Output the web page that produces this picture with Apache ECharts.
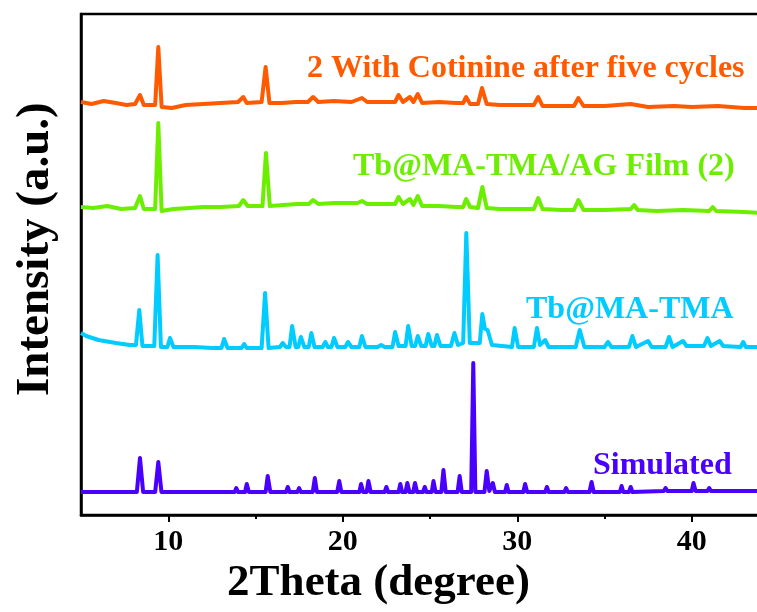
<!DOCTYPE html>
<html><head><meta charset="utf-8">
<script src="https://cdn.jsdelivr.net/npm/echarts@6/dist/echarts.min.js"></script>
<style>html,body{margin:0;padding:0;background:#fff}#c{width:757px;height:612px}</style>
</head><body><div id="c"></div>
<script>
// Series names / labels
const seriesNames = ['2 With Cotinine after five cycles', 'Tb@MA-TMA/AG Film (2)', 'Tb@MA-TMA', 'Simulated'];
const xTickLabels = [10, 20, 30, 40];
const xMinorTicks = [15, 25, 35];
const xAxisTitle = '2Theta (degree)';
const yAxisTitle = 'Intensity (a.u.)';

// [2theta, intensity (a.u., stacked offset)]
const cyclesData = [[5.0,413],[5.6,411],[6.3,414],[7.0,412],[7.6,410],[8.1,411],[8.38,420],[8.6,410],[9.25,410],[9.43,468],[9.62,408],[10.2,407],[11.0,410],[12.0,411],[13.0,412],[14.0,413],[14.3,418],[14.5,412],[15.35,413],[15.58,448],[15.8,412],[16.5,412],[17.3,413],[18.0,413],[18.3,418],[18.6,413],[19.5,414],[20.5,413],[21.1,417],[21.4,413],[22.3,413],[23.0,413],[23.2,420],[23.45,413],[23.85,418],[24.05,413],[24.3,421],[24.55,412],[25.5,413],[26.5,412],[26.9,412],[27.07,418],[27.3,411],[27.75,411],[27.98,427],[28.25,411],[29.0,410],[30.0,410],[30.95,410],[31.2,418],[31.45,409],[32.5,409],[33.25,409],[33.5,417],[33.8,409],[35.0,409],[36.5,411],[37.5,408],[39.0,409],[40.0,408],[41.5,409],[43.0,407],[44.0,407]];

const filmData = [[5.0,308],[5.7,307],[6.5,309],[7.3,306],[8.1,307],[8.38,319],[8.6,306],[9.25,306],[9.43,392],[9.62,304],[10.3,306],[11.2,307],[12.0,308],[13.0,308],[14.05,309],[14.3,315],[14.55,309],[15.4,309],[15.6,362],[15.82,309],[16.6,310],[17.4,311],[18.05,311],[18.3,315],[18.6,311],[19.5,312],[20.4,312],[20.85,312],[21.1,314],[21.4,311],[22.3,311],[23.0,311],[23.2,318],[23.45,311],[23.85,316],[24.05,310],[24.3,319],[24.55,309],[25.5,309],[26.5,308],[26.9,308],[27.07,316],[27.3,308],[27.75,307],[28.0,328],[28.25,307],[29.0,306],[30.0,306],[30.95,306],[31.2,317],[31.45,306],[32.5,305],[33.25,305],[33.5,315],[33.8,305],[35.0,305],[36.5,306],[36.7,310],[36.9,305],[38.0,304],[39.5,305],[41.0,304],[41.2,308],[41.4,304],[43.0,303],[44.0,302]];

const powderData = [[5.0,182],[5.3,179],[6.0,175],[7.0,172],[7.8,170],[8.15,170],[8.34,205],[8.52,169],[9.2,169],[9.39,260],[9.58,168],[9.95,168],[10.1,177],[10.3,168],[11.5,168],[12.5,167],[13.05,167],[13.2,176],[13.4,167],[14.2,167],[14.35,171],[14.5,167],[15.35,167],[15.55,222],[15.75,167],[16.4,168],[16.56,172],[16.75,168],[16.95,168],[17.1,189],[17.3,168],[17.45,168],[17.6,178],[17.8,168],[18.05,168],[18.2,182],[18.38,168],[18.85,168],[19.0,173],[19.15,168],[19.35,168],[19.5,177],[19.7,168],[20.15,168],[20.3,173],[20.5,168],[20.95,168],[21.1,179],[21.3,168],[22.0,168],[22.2,170],[22.4,168],[22.85,168],[23.0,183],[23.2,169],[23.6,169],[23.75,189],[23.95,169],[24.15,169],[24.3,179],[24.5,169],[24.75,169],[24.9,181],[25.1,169],[25.25,169],[25.4,180],[25.6,169],[26.2,169],[26.4,182],[26.6,170],[26.9,172],[27.08,282],[27.28,172],[27.85,172],[28.0,201],[28.15,186],[28.3,185],[28.55,170],[29.7,168],[29.85,187],[30.05,168],[30.95,168],[31.13,187],[31.3,170],[31.6,175],[31.8,168],[33.35,168],[33.58,185],[33.85,168],[35.0,168],[35.2,173],[35.4,168],[36.4,168],[36.6,179],[36.8,168],[37.5,174],[37.7,168],[38.5,168],[38.7,178],[38.9,168],[39.5,174],[39.7,169],[40.7,169],[40.9,177],[41.1,169],[41.6,174],[41.8,169],[42.8,168],[42.95,173],[43.1,168],[44.0,168]];

const simulatedData = [[5.0,23],[8.2,23],[8.38,57],[8.56,23],[9.25,23],[9.43,53],[9.61,23],[13.1,23],[13.2,21],[13.3,23],[13.8,23],[13.9,27],[14.0,23],[14.4,23],[14.5,31],[14.62,23],[15.58,23],[15.7,39],[15.85,23],[16.75,23],[16.85,28],[16.95,23],[17.4,23],[17.5,27],[17.6,23],[18.28,23],[18.4,37],[18.52,23],[19.68,23],[19.8,34],[19.92,23],[20.95,23],[21.05,31],[21.17,23],[21.37,23],[21.47,34],[21.6,23],[22.4,23],[22.5,28],[22.6,23],[23.2,23],[23.3,31],[23.4,23],[23.6,23],[23.7,32],[23.82,23],[24.04,23],[24.14,32],[24.26,23],[24.6,23],[24.7,28],[24.8,23],[25.1,23],[25.2,34],[25.32,23],[25.65,23],[25.77,45],[25.9,23],[26.58,23],[26.7,39],[26.82,23],[27.36,23],[27.48,152],[27.6,23],[28.12,23],[28.25,44],[28.4,24],[28.5,23],[28.6,32],[28.72,23],[29.3,23],[29.4,30],[29.5,23],[30.35,23],[30.45,31],[30.57,23],[31.6,23],[31.7,28],[31.8,23],[32.7,23],[32.8,27],[32.9,23],[34.14,23],[34.26,33],[34.38,23],[35.88,23],[35.98,29],[36.08,23],[36.4,23],[36.5,28],[36.6,23],[38.4,24],[38.5,27],[38.6,24],[40.0,24],[40.1,32],[40.22,24],[40.9,24],[41.0,27],[41.1,24],[42.9,24],[43.0,26],[43.1,24],[44.0,24]];

const colors = ['#FF5A00', '#6CEE00', '#00CCFF', '#4A00FF'];
const FONT = '"Liberation Serif", "Times New Roman", serif';

const chart = echarts.init(document.getElementById('c'), null, {renderer: 'canvas'});
const dataSets = [cyclesData, filmData, powderData, simulatedData];
const labelPos = [[307, 69], [353, 167], [526, 310], [593, 466]];

chart.setOption({
  animation: false,
  backgroundColor: '#fff',
  grid: {left: 81, top: 14, right: -22, bottom: 97, outerBoundsMode: 'none', containLabel: false,
         show: true, borderColor: '#000', borderWidth: 2.5, backgroundColor: 'transparent'},
  xAxis: [{
    type: 'value', min: 5, max: 45, interval: 5, position: 'bottom',
    axisLine: {show: true, onZero: false, lineStyle: {color: '#000', width: 2.5}},
    axisTick: {show: true, inside: false, length: 7, customValues: xTickLabels, lineStyle: {color: '#000', width: 2}},
    axisLabel: {customValues: xTickLabels, fontFamily: FONT, fontWeight: 'bold', fontSize: 30, color: '#000', margin: 12},
    splitLine: {show: false}
  }, {
    type: 'value', min: 5, max: 45, interval: 5, position: 'bottom', gridIndex: 0,
    axisLine: {show: false, onZero: false},
    axisTick: {show: true, inside: false, length: 4, customValues: xMinorTicks, lineStyle: {color: '#000', width: 2}},
    axisLabel: {show: false},
    splitLine: {show: false}
  }],
  yAxis: {
    type: 'value', min: 0, max: 501,
    axisLine: {show: true, onZero: false, lineStyle: {color: '#000', width: 2.5}},
    axisTick: {show: false}, axisLabel: {show: false}, splitLine: {show: false}
  },
  series: dataSets.map((d, i) => ({
    type: 'line', name: seriesNames[i], data: d, xAxisIndex: 0,
    showSymbol: false, symbol: 'none', smooth: false,
    lineStyle: {color: colors[i], width: 4, join: 'round'},
    z: 3
  })),
  graphic: [
    ...seriesNames.map((t, i) => ({
      type: 'text', left: labelPos[i][0], top: labelPos[i][1] - 16,
      style: {text: t, fill: colors[i], font: 'bold 32px ' + FONT}
    })),
    {type: 'text', left: 'center', top: 561,
     style: {text: xAxisTitle, fill: '#000', font: 'bold 45px ' + FONT}},
    {type: 'text', rotation: Math.PI / 2, x: 12, y: 396,
     style: {text: yAxisTitle, fill: '#000', font: 'bold 47px ' + FONT, verticalAlign: 'top', align: 'left'}}
  ]
});
</script></body></html>
